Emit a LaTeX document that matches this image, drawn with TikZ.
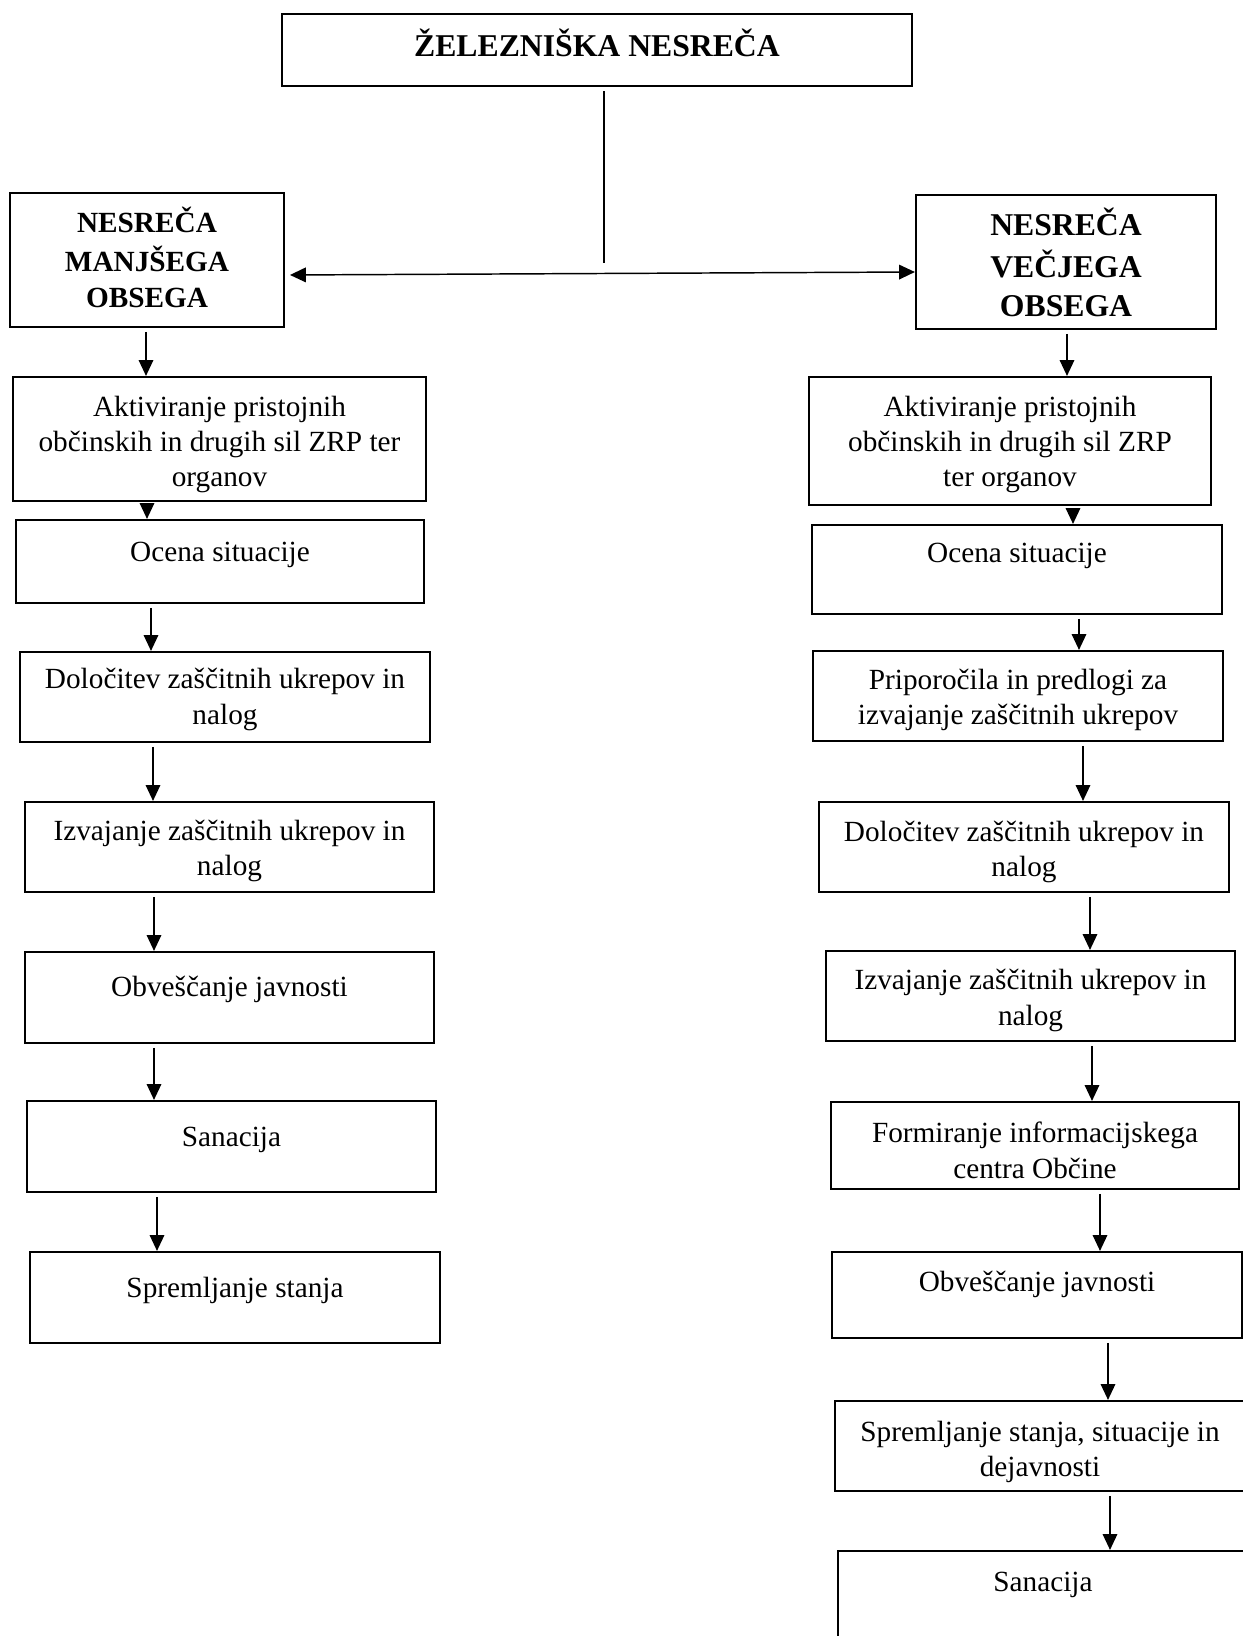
\documentclass[tikz,border=0pt]{standalone}
\usepackage{fontspec}
\setmainfont{Liberation Serif}
\usetikzlibrary{arrows.meta,fit}
\begin{document}
\begin{tikzpicture}[x=0.41pt,y=-0.41pt,
  box/.style={draw,line width=0.9pt,inner sep=0pt},
  txt/.style={align=center,inner sep=0pt,yshift=-1pt,font=\fontsize{12}{14.5}\selectfont},
  boldsm/.style={align=center,inner sep=0pt,yshift=-0.6pt,font=\bfseries\fontsize{12}{14.7}\selectfont},
  boldbig/.style={align=center,inner sep=0pt,yshift=-0.6pt,font=\bfseries\fontsize{13}{16.1}\selectfont},
  arr/.style={line width=0.5pt,-{Triangle[length=6.5pt,width=6pt]},shorten <=1.5pt},
  arrtwo/.style={line width=0.6pt,{Triangle[length=6.5pt,width=6pt]}-{Triangle[length=6.5pt,width=6pt]},shorten <=2pt},
  ln/.style={line width=0.5pt}]
\clip (0,0) rectangle (1243,1636);
\fill[white] (0,0) rectangle (1243,1636);

% title
\node[box,fit={(282,14) (912,86)}] (T) {};
\node[boldbig] (Tt) at (597,47) {\strut ŽELEZNIŠKA NESREČA\strut};

% level boxes
\node[box,fit={(10,193) (284,327)}] (L0) {};
\node[boldsm] (L0t) at (147,261) {\strut NESREČA\\MANJŠEGA\\OBSEGA\strut};
\node[box,fit={(916,195) (1216,329)}] (R0) {};
\node[boldbig] (R0t) at (1066,267) {\strut NESREČA\\VEČJEGA\\OBSEGA\strut};

\coordinate (J) at (604,263);
\draw[ln] ([yshift=-1.6pt]T.south -| J) -- (J);
\draw[arrtwo] (L0.east |- 0,275) -- (R0.west |- 0,272);

% left column
\node[box,fit={(13,377) (426,501)}] (L1) {};
\node[txt] (L1t) at (219.5,442) {\strut Aktiviranje pristojnih\\občinskih in drugih sil ZRP ter\\organov\strut};
\node[box,fit={(16,520) (424,603)}] (L2) {};
\node[txt] (L2t) at (220,552) {\strut Ocena situacije\strut};
\node[box,fit={(20,652) (430,742)}] (L3) {};
\node[txt] (L3t) at (225,697) {\strut Določitev zaščitnih ukrepov in\\nalog\strut};
\node[box,fit={(25,802) (434,892)}] (L4) {};
\node[txt] (L4t) at (229.5,848.5) {\strut Izvajanje zaščitnih ukrepov in\\nalog\strut};
\node[box,fit={(25,952) (434,1043)}] (L5) {};
\node[txt] (L5t) at (229.5,987) {\strut Obveščanje javnosti\strut};
\node[box,fit={(27,1101) (436,1192)}] (L6) {};
\node[txt] (L6t) at (231.5,1137) {\strut Sanacija\strut};
\node[box,fit={(30,1252) (440,1343)}] (L7) {};
\node[txt] (L7t) at (235,1288) {\strut Spremljanje stanja\strut};

\draw[arr] (L0.south -| 146,0) -- (L1.north -| 146,0);
\draw[arr] (L1.south -| 147,0) -- (L2.north -| 147,0);
\draw[arr] (L2.south -| 151,0) -- (L3.north -| 151,0);
\draw[arr] (L3.south -| 153,0) -- (L4.north -| 153,0);
\draw[arr] (L4.south -| 154,0) -- (L5.north -| 154,0);
\draw[arr] (L5.south -| 154,0) -- (L6.north -| 154,0);
\draw[arr] (L6.south -| 157,0) -- (L7.north -| 157,0);

% right column
\node[box,fit={(809,377) (1211,505)}] (R1) {};
\node[txt] (R1t) at (1010,442) {\strut Aktiviranje pristojnih\\občinskih in drugih sil ZRP\\ter organov\strut};
\node[box,fit={(812,525) (1222,614)}] (R2) {};
\node[txt] (R2t) at (1017,553) {\strut Ocena situacije\strut};
\node[box,fit={(813,651) (1223,741)}] (R3) {};
\node[txt] (R3t) at (1018,697.5) {\strut Priporočila in predlogi za\\izvajanje zaščitnih ukrepov\strut};
\node[box,fit={(819,802) (1229,892)}] (R4) {};
\node[txt] (R4t) at (1024,849.5) {\strut Določitev zaščitnih ukrepov in\\nalog\strut};
\node[box,fit={(826,951) (1235,1041)}] (R5) {};
\node[txt] (R5t) at (1030.5,998) {\strut Izvajanje zaščitnih ukrepov in\\nalog\strut};
\node[box,fit={(831,1102) (1239,1189)}] (R6) {};
\node[txt] (R6t) at (1035,1151) {\strut Formiranje informacijskega\\centra Občine\strut};
\node[box,fit={(832,1252) (1242,1338)}] (R7) {};
\node[txt] (R7t) at (1037,1282) {\strut Obveščanje javnosti\strut};
\node[box,fit={(835,1401) (1252,1491)}] (R8) {};
\node[txt] (R8t) at (1040,1449.5) {\strut Spremljanje stanja, situacije in\\dejavnosti\strut};
\node[box,fit={(838,1551) (1252,1660)}] (R9) {};
\node[txt] (R9t) at (1043,1582) {\strut Sanacija\strut};

\draw[arr] (R0.south -| 1067,0) -- (R1.north -| 1067,0);
\draw[arr] (R1.south -| 1073,0) -- (R2.north -| 1073,0);
\draw[arr] (R2.south -| 1079,0) -- (R3.north -| 1079,0);
\draw[arr] (R3.south -| 1083,0) -- (R4.north -| 1083,0);
\draw[arr] (R4.south -| 1090,0) -- (R5.north -| 1090,0);
\draw[arr] (R5.south -| 1092,0) -- (R6.north -| 1092,0);
\draw[arr] (R6.south -| 1100,0) -- (R7.north -| 1100,0);
\draw[arr] (R7.south -| 1108,0) -- (R8.north -| 1108,0);
\draw[arr] (R8.south -| 1110,0) -- (R9.north -| 1110,0);
\end{tikzpicture}
\end{document}
